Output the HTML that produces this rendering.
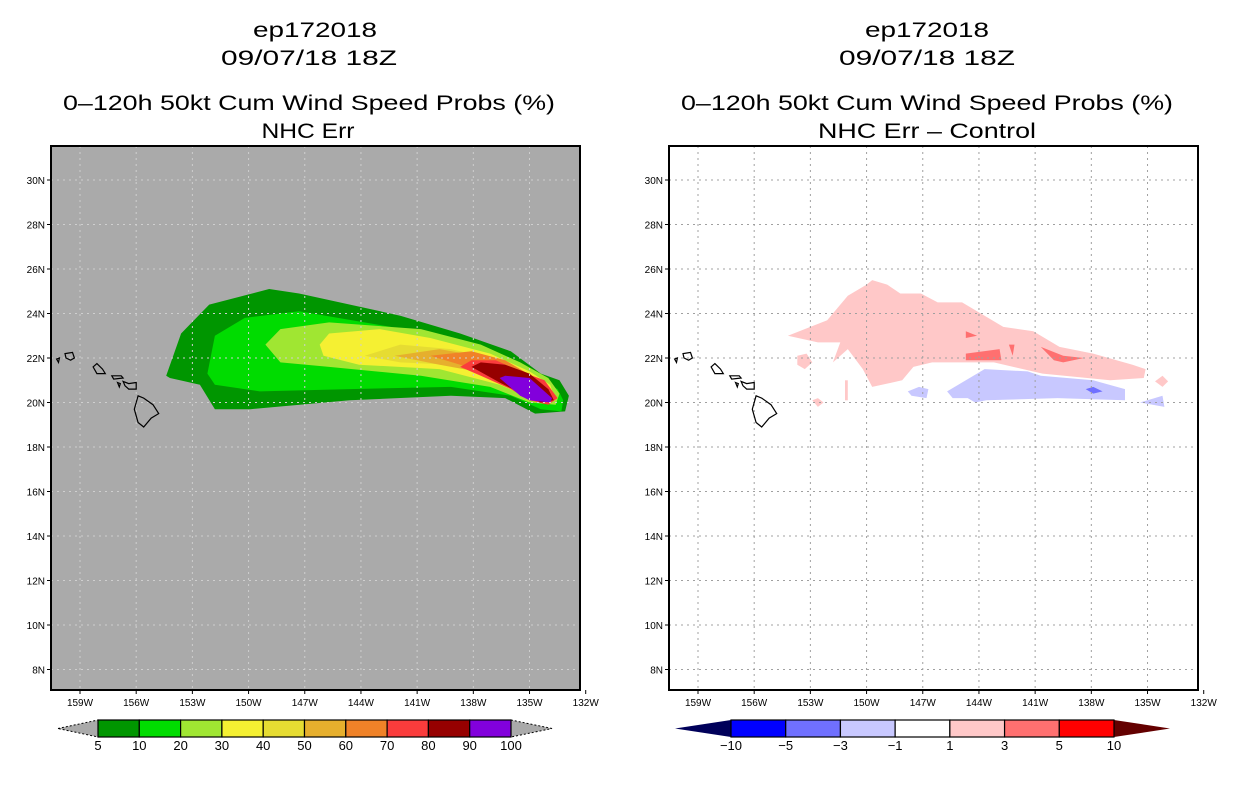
<!DOCTYPE html>
<html><head><meta charset="utf-8">
<style>
html,body{margin:0;padding:0;background:#fff;}
svg text{font-family:"Liberation Sans",sans-serif;}
</style></head>
<body>
<svg id="fig" width="1236" height="800" viewBox="0 0 1236 800" xmlns="http://www.w3.org/2000/svg">
  <g font-size="21" text-anchor="middle" fill="#000">
    <text x="315" y="37" textLength="124" lengthAdjust="spacingAndGlyphs">ep172018</text>
    <text x="309" y="65" textLength="176" lengthAdjust="spacingAndGlyphs">09/07/18 18Z</text>
    <text x="309" y="110" textLength="492" lengthAdjust="spacingAndGlyphs">0–120h 50kt Cum Wind Speed Probs (%)</text>
    <text x="308" y="138" textLength="93" lengthAdjust="spacingAndGlyphs">NHC Err</text>
  </g>
  <g font-size="21" text-anchor="middle" fill="#000">
    <text x="927" y="37" textLength="124" lengthAdjust="spacingAndGlyphs">ep172018</text>
    <text x="927" y="65" textLength="176" lengthAdjust="spacingAndGlyphs">09/07/18 18Z</text>
    <text x="927" y="110" textLength="492" lengthAdjust="spacingAndGlyphs">0–120h 50kt Cum Wind Speed Probs (%)</text>
    <text x="927" y="138" textLength="218" lengthAdjust="spacingAndGlyphs">NHC Err – Control</text>
  </g>
  <g id="L"></g>
  <g id="R"></g>
  <g id="CL"></g>
  <g id="CR"></g>
</svg>
<script>
const NS="http://www.w3.org/2000/svg";
const lonTicks=[-159,-156,-153,-150,-147,-144,-141,-138,-135,-132];
const latTicks=[30,28,26,24,22,20,18,16,14,12,10,8];
const probLevels=[5,10,20,30,40,50,60,70,80,90,100];
const probColors=["#009600","#00dc00","#a0e632","#f5f032","#e6dc32","#e6af2d","#f08228","#fa3c3c","#960000","#8200dc"];
const diffLevels=["-10","-5","-3","-1","1","3","5","10"];
const diffColors=["#0000ff","#7070ff","#c8c8ff","#ffffff","#ffc8c8","#ff7070","#ff0000"];
const prob5=[[-154.4,21.2],[-153.6,23.1],[-152.1,24.4],[-148.9,25.1],[-147.3,24.9],[-141.9,23.9],[-138.7,23.1],[-136.0,22.3],[-134.4,21.3],[-133.4,21.0],[-132.9,20.3],[-133.1,19.6],[-134.7,19.5],[-136.3,20.2],[-139.2,20.3],[-144.6,20.1],[-149.9,19.7],[-151.8,19.7],[-152.6,20.8],[-154.2,21.1]];
const prob10=[[-152.2,21.3],[-151.8,23.0],[-150.2,23.8],[-147.3,24.1],[-142.4,23.4],[-138.7,22.6],[-136.2,21.8],[-134.4,21.0],[-133.5,20.6],[-133.2,20.1],[-133.3,19.6],[-134.4,19.7],[-136.0,20.3],[-139.2,20.7],[-144.6,20.6],[-149.4,20.5],[-151.8,20.8]];
const prob20=[[-149.1,22.6],[-148.3,23.3],[-145.7,23.6],[-140.8,23.3],[-137.6,22.6],[-135.5,21.8],[-134.0,21.1],[-133.4,20.4],[-133.6,19.9],[-135.0,20.0],[-137.1,20.7],[-140.8,21.2],[-145.7,21.6],[-148.3,21.8]];
const prob30=[[-146.2,22.6],[-145.7,23.1],[-143.0,23.3],[-140.3,22.9],[-137.1,22.2],[-135.0,21.4],[-133.9,20.8],[-133.6,20.1],[-134.4,20.0],[-136.6,20.8],[-139.8,21.5],[-144.1,21.7],[-146.0,22.1]];
const prob40=[[-143.8,22.1],[-141.9,22.6],[-139.2,22.4],[-136.6,21.9],[-134.7,21.0],[-133.9,20.4],[-134.4,20.2],[-136.3,21.1],[-139.2,21.7],[-141.9,21.8]];
const prob50=[[-142.2,22.1],[-139.8,22.4],[-137.1,22.0],[-135.0,21.2],[-134.0,20.4],[-134.7,20.3],[-136.6,21.2],[-139.8,21.7]];
const prob60=[[-140.3,22.1],[-138.1,22.3],[-136.3,21.9],[-134.7,21.1],[-134.0,20.4],[-134.7,20.3],[-136.3,21.1],[-138.7,21.7]];
const prob70=[[-138.7,21.6],[-138.1,21.9],[-136.8,21.9],[-135.5,21.4],[-134.2,21.0],[-133.5,20.2],[-134.0,19.9],[-135.0,20.1],[-136.0,20.6],[-137.6,21.2]];
const prob80=[[-138.1,21.6],[-137.6,21.8],[-136.3,21.7],[-135.0,21.3],[-134.0,20.6],[-133.7,20.1],[-134.4,20.0],[-135.2,20.3],[-136.6,20.9]];
const prob90=[[-136.6,21.1],[-136.3,21.2],[-135.0,21.1],[-134.2,20.5],[-133.8,20.2],[-133.9,20.0],[-135.0,20.1],[-135.5,20.3]];
const probShapes=[prob5,prob10,prob20,prob30,prob40,prob50,prob60,prob70,prob80,prob90];
const diffPos1=[[-154.2,23.0],[-152.1,23.7],[-151.0,24.8],[-150.0,25.3],[-149.7,25.5],[-148.9,25.3],[-148.2,24.9],[-147.1,24.9],[-146.2,24.5],[-144.9,24.5],[-143.9,24.0],[-142.7,23.4],[-141.1,23.2],[-139.7,22.5],[-137.9,22.2],[-135.8,21.7],[-135.1,21.5],[-135.2,21.1],[-137.0,21.0],[-140.6,21.3],[-143.2,21.8],[-146.5,21.8],[-147.5,21.6],[-148.1,21.0],[-149.7,20.7],[-150.2,21.5],[-151.0,22.4],[-151.8,21.8],[-151.4,22.7],[-152.6,22.7]];
const diffPos1b=[[-153.7,22.1],[-153.2,22.2],[-152.9,21.8],[-153.3,21.5],[-153.7,21.7]];
const diffPos1c=[[-151.15,21.0],[-151.0,21.0],[-151.0,20.1],[-151.15,20.1]];
const diffPos1d=[[-152.9,20.1],[-152.6,20.2],[-152.3,20.0],[-152.6,19.8]];
const diffPos1e=[[-134.6,20.95],[-134.2,21.2],[-133.9,20.95],[-134.2,20.7]];
const diffPos3a=[[-144.7,22.2],[-142.9,22.4],[-142.8,21.9],[-144.7,21.9]];
const diffPos3b=[[-140.7,22.5],[-139.5,22.1],[-138.4,22.0],[-139.5,21.8],[-140.0,21.9]];
const diffPos3c=[[-144.7,23.2],[-144.1,23.0],[-144.7,22.9]];
const diffPos3d=[[-142.4,22.6],[-142.1,22.6],[-142.2,22.1]];
const diffNeg1=[[-145.7,20.5],[-143.7,21.5],[-141.4,21.4],[-140.7,21.2],[-137.9,21.0],[-136.2,20.6],[-136.2,20.1],[-139.8,20.2],[-143.6,20.1],[-144.2,20.0],[-144.6,20.2],[-145.4,20.2]];
const diffNeg1b=[[-147.8,20.5],[-147.2,20.7],[-146.7,20.6],[-146.8,20.2],[-147.6,20.3]];
const diffNeg1c=[[-135.4,20.0],[-134.2,20.3],[-134.1,19.8]];
const diffNeg3=[[-138.3,20.6],[-137.9,20.7],[-137.4,20.5],[-137.9,20.4]];
const diffShapes=[[diffPos1,4],[diffPos1b,4],[diffPos1c,4],[diffPos1d,4],[diffPos1e,4],[diffPos3a,5],[diffPos3b,5],[diffPos3c,5],[diffPos3d,5],[diffNeg1,2],[diffNeg1b,2],[diffNeg1c,2],[diffNeg3,1]];
const islands=[
 [[-159.8,22.2],[-159.4,22.25],[-159.3,22.0],[-159.5,21.9],[-159.75,22.0]],
 [[-160.25,21.95],[-160.1,22.0],[-160.15,21.8]],
 [[-158.3,21.6],[-158.1,21.75],[-157.8,21.5],[-157.65,21.3],[-158.1,21.3]],
 [[-157.3,21.2],[-156.8,21.2],[-156.7,21.1],[-157.2,21.05]],
 [[-157.0,20.9],[-156.85,20.85],[-156.9,20.7]],
 [[-156.7,20.95],[-156.4,20.85],[-156.0,20.9],[-156.0,20.6],[-156.4,20.6],[-156.6,20.75]],
 [[-155.9,20.3],[-155.6,20.2],[-155.1,19.9],[-154.8,19.5],[-155.2,19.3],[-155.6,18.9],[-155.9,19.1],[-156.1,19.7]]
];
const PX=51,PY=146,PW=529,PH=544;
function xs(lon,off){return off+80+(lon+159)*18.73;}
function ys(lat){return 180+(30-lat)*22.25;}
function el(tag,attrs,parent){const e=document.createElementNS(NS,tag);for(const k in attrs)e.setAttribute(k,attrs[k]);parent.appendChild(e);return e;}
function pts(arr,off){return arr.map(p=>xs(p[0],off).toFixed(1)+","+ys(p[1]).toFixed(1)).join(" ");}

function drawPanel(g,off,bg,grid,left){
  const clipId="clip"+off;
  const cp=el("clipPath",{id:clipId},g);
  el("rect",{x:PX+off,y:PY,width:PW,height:PH},cp);
  const bgR=el("rect",{x:PX+off,y:PY,width:PW,height:PH,fill:bg},g);
  
  
  const inner=el("g",{"clip-path":"url(#"+clipId+")"},g);
  if(left){
    probShapes.forEach((s,i)=>{
      const p=el("polygon",{points:pts(s,off),fill:probColors[i]},inner);
      
      
    });
  } else {
    diffShapes.forEach(([s,ci])=>{
      const p=el("polygon",{points:pts(s,off),fill:diffColors[ci]},inner);
      
      
    });
  }
  lonTicks.forEach(l=>{
    const x=xs(l,off);
    const ln=el("line",{x1:x,x2:x,y1:PY,y2:PY+PH,stroke:grid,"stroke-width":1,"stroke-dasharray":"2,4"},inner);
    
    
  });
  latTicks.forEach(l=>{
    const y=ys(l);
    const ln=el("line",{x1:PX+off,x2:PX+off+PW,y1:y,y2:y,stroke:grid,"stroke-width":1,"stroke-dasharray":"2,4"},inner);
    
    
  });
  islands.forEach(s=>{
    const p=el("polygon",{points:pts(s,off),fill:"none",stroke:"#000","stroke-width":1.2},inner);
    
    
  });
  const fr=el("rect",{x:PX+off,y:PY,width:PW,height:PH,fill:"none",stroke:"#000","stroke-width":2},g);
  
  
  lonTicks.forEach(l=>{
    const x=xs(l,off);
    el("line",{x1:x,x2:x,y1:PY+PH,y2:PY+PH+4,stroke:"#000"},g);
    const t=el("text",{x:x,y:PY+PH+16,"font-size":10,"text-anchor":"middle"},g);
    t.textContent=Math.abs(l)+"W";
    
    
  });
  latTicks.forEach(l=>{
    const y=ys(l);
    el("line",{x1:PX+off-4,x2:PX+off,y1:y,y2:y,stroke:"#000"},g);
    const t=el("text",{x:PX+off-6,y:y+4,"font-size":10,"text-anchor":"end"},g);
    t.textContent=l+"N";
    
    
  });
}
drawPanel(document.getElementById("L"),0,"#aaaaaa","#cfcfcf",true);
drawPanel(document.getElementById("R"),618,"#ffffff","#a0a0a0",false);

function colorbar(g,x0,x1,t0,t1,colors,labels,leftTri,rightTri,triStroke){
  const y0=720,y1=737,n=colors.length,w=(x1-x0)/n;
  const lt=el("polygon",{points:`${t0},${(y0+y1)/2} ${x0},${y0} ${x0},${y1}`,fill:leftTri,stroke:triStroke,"stroke-dasharray":triStroke=="#000"?"2,2":"none"},g);
  
  
  const rt=el("polygon",{points:`${t1},${(y0+y1)/2} ${x1},${y0} ${x1},${y1}`,fill:rightTri,stroke:triStroke,"stroke-dasharray":triStroke=="#000"?"2,2":"none"},g);
  
  
  colors.forEach((c,i)=>{
    const r=el("rect",{x:x0+i*w,y:y0,width:w,height:y1-y0,fill:c,stroke:"#000","stroke-width":1.2},g);
    
    
  });
  labels.forEach((lb,i)=>{
    const t=el("text",{x:x0+i*w,y:y1+13,"font-size":13,"text-anchor":"middle"},g);
    t.textContent=String(lb).replace("-","−");
    
    
  });
}
colorbar(document.getElementById("CL"),98,511,58,552,probColors,probLevels,"#aaaaaa","#aaaaaa","#000");
colorbar(document.getElementById("CR"),731,1114,675,1170,diffColors,diffLevels,"#00005a","#640000","none");
</script>
</body></html>
